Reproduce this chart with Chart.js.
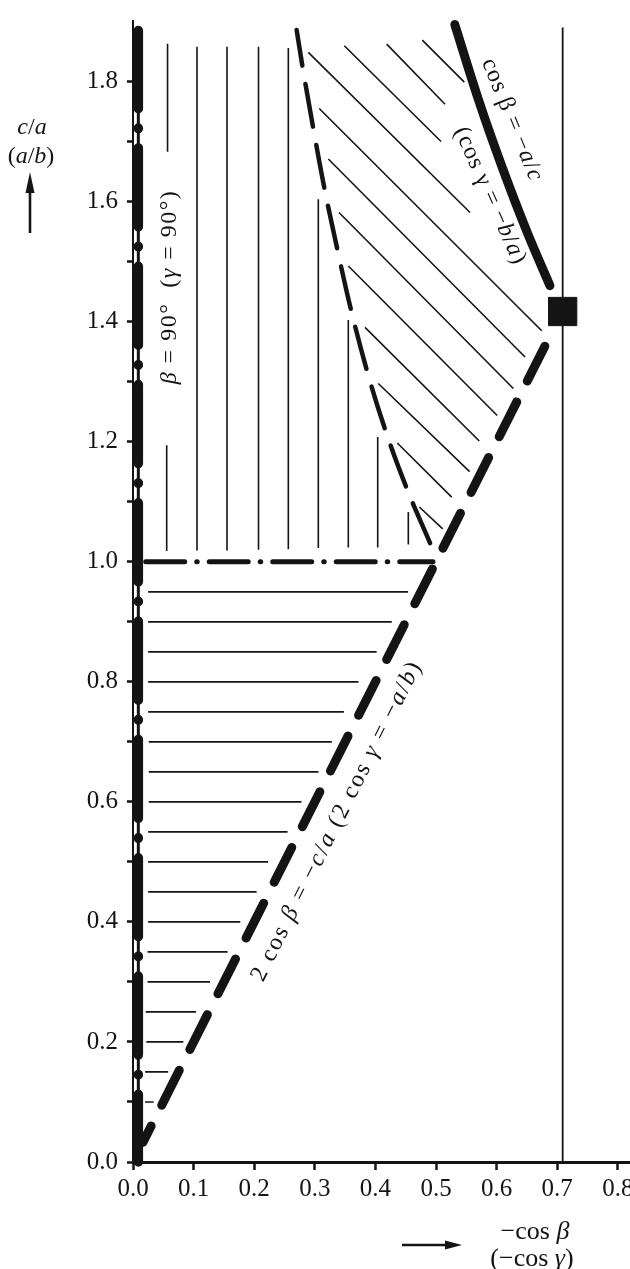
<!DOCTYPE html>
<html><head><meta charset="utf-8">
<script src="https://cdn.jsdelivr.net/npm/chart.js@4/dist/chart.umd.min.js"></script>
<style>
html,body{margin:0;padding:0;overflow:hidden;background:#fff;}
#wrap{position:absolute;left:0;top:0;width:660px;height:1269px;}
canvas{display:block;}
</style></head>
<body><div id="wrap"><canvas id="c" width="660" height="1269"></canvas></div>
<script>
// ---------- tick values ----------
const xTickValues = [0.0,0.1,0.2,0.3,0.4,0.5,0.6,0.7,0.8];
const yTickValues = [0.0,0.1,0.2,0.3,0.4,0.5,0.6,0.7,0.8,0.9,1.0,1.1,1.2,1.3,1.4,1.5,1.6,1.7,1.8];
const yLabelValues = [0.0,0.2,0.4,0.6,0.8,1.0,1.2,1.4,1.6,1.8];

// ---------- boundary lines ----------
const betaRightX = [0.0088, 0.0088];          // beta = 90 deg (heavy dash-dot)
const betaRightY = [0.0, 1.885];
const mirrorX = [0.709, 0.709];               // thin vertical line
const mirrorY = [0.0, 1.89];
const unitX = [0.021, 0.495];                 // c/a = 1 dash-dot
const unitY = [1.0, 1.0];
const doubleCosX = [0.697, 0.0165];           // 2 cos beta = -c/a
const doubleCosY = [1.394, 0.033];
const cosCurveX = [0.531, 0.570, 0.610, 0.650, 0.688];   // cos beta = -a/c
const cosCurveY = [1.895, 1.770, 1.655, 1.550, 1.460];
const innerCurveX = [0.270, 0.280, 0.2975, 0.3157, 0.3388, 0.358, 0.391, 0.424, 0.457, 0.493, 0.4975];
const innerCurveY = [1.886, 1.823, 1.722, 1.623, 1.513, 1.427, 1.301, 1.197, 1.109, 1.024, 1.012];
const cornerX = [0.709];
const cornerY = [1.417];

// ---------- hatching ----------
const hHatchY  = [0.95,0.90,0.85,0.80,0.75,0.70,0.65,0.60,0.55,0.50,0.45,0.40,0.35,0.30,0.25,0.20,0.15,0.10];
const hHatchX0 = [0.025,0.025,0.025,0.025,0.025,0.026,0.026,0.026,0.025,0.025,0.025,0.025,0.024,0.024,0.021,0.022,0.020,0.020];
const hHatchX1 = [0.454,0.427,0.402,0.372,0.348,0.328,0.306,0.278,0.255,0.223,0.204,0.177,0.156,0.127,0.104,0.083,0.058,0.034];

const vHatchX      = [0.057, 0.0556, 0.1056, 0.1551, 0.2071, 0.2563, 0.3058, 0.3553, 0.4038, 0.4543];
const vHatchTop    = [1.863, 1.194, 1.858, 1.858, 1.858, 1.856, 1.604, 1.403, 1.208, 1.083];
const vHatchBottom = [1.683, 1.018, 1.019, 1.019, 1.020, 1.021, 1.023, 1.024, 1.024, 1.029];

const dHatchX0 = [0.4774,0.4186,0.3487,0.2893,0.3074,0.3223,0.3399,0.3553,0.3828,0.4048,0.4361,0.4725];
const dHatchY0 = [1.8692,1.8625,1.8597,1.8487,1.7553,1.6711,1.5820,1.4929,1.3906,1.2970,1.1980,1.0913];
const dHatchX1 = [0.5467,0.5149,0.5083,0.5561,0.6744,0.6469,0.6276,0.6010,0.5714,0.5554,0.5259,0.5111];
const dHatchY1 = [1.7992,1.7624,1.7002,1.5820,1.3850,1.3411,1.2888,1.2437,1.2013,1.1502,1.1078,1.0549];

// ---------- helpers ----------
const INK = '#141414';
function pts(xs, ys){ return xs.map((x,i)=>({x:x, y:ys[i]})); }
function segs(x0,y0,x1,y1){
  const out=[];
  for(let i=0;i<x0.length;i++){ out.push({x:x0[i],y:y0[i]},{x:x1[i],y:y1[i]},{x:x1[i],y:null}); }
  return out;
}
function lineDs(data, extra){
  return Object.assign({data:data, showLine:true, pointRadius:0, borderColor:INK, backgroundColor:INK,
    borderWidth:1.6, tension:0, clip:false, spanGaps:false}, extra||{});
}

const datasets = [
  // corner square
  {data: pts(cornerX, cornerY), showLine:false, pointStyle:'rect', pointRadius:20, pointHoverRadius:20,
   backgroundColor:INK, borderColor:INK, pointBorderWidth:1, clip:false},
  // cos beta = -a/c
  lineDs(pts(cosCurveX, cosCurveY), {borderWidth:9, borderCapStyle:'round', cubicInterpolationMode:'monotone'}),
  // 2 cos beta = -c/a
  lineDs(pts(doubleCosX, doubleCosY), {borderWidth:9, borderCapStyle:'round', borderDash:[39,23.4], borderDashOffset:39}),
  // inner dashed curve
  lineDs(pts(innerCurveX, innerCurveY), {borderWidth:4.5, borderCapStyle:'round', borderDash:[43.5,18.5], borderDashOffset:7.5, cubicInterpolationMode:'monotone'}),
  // c/a = 1 dash-dot
  lineDs(pts(unitX, unitY), {borderWidth:5, borderCapStyle:'round', borderDash:[39,12,0.5,12]}),
  // beta = 90 heavy dash-dot
  lineDs(pts(betaRightX, betaRightY), {borderWidth:9.5, borderCapStyle:'round', borderDash:[79,19.4,0.5,19.4], borderDashOffset:11.35}),
  lineDs(pts(betaRightX, betaRightY), {borderWidth:3}),
  // thin vertical line
  lineDs(pts(mirrorX, mirrorY), {borderWidth:1.8}),
  // hatching
  lineDs(segs(hHatchX0, hHatchY, hHatchX1, hHatchY), {borderWidth:1.7}),
  lineDs(segs(vHatchX, vHatchTop, vHatchX, vHatchBottom), {borderWidth:1.6}),
  lineDs(segs(dHatchX0, dHatchY0, dHatchX1, dHatchY1), {borderWidth:1.6})
];

// ---------- text annotations ----------
function drawRuns(ctx, runs, x, y, angleDeg, size, spacing, align){
  ctx.save();
  ctx.translate(x, y);
  ctx.rotate(angleDeg*Math.PI/180);
  ctx.fillStyle = INK;
  ctx.textBaseline = 'middle';
  ctx.textAlign = 'left';
  try { ctx.letterSpacing = (spacing||0) + 'px'; } catch(e){}
  const fontFor = it => (it ? 'italic ' : '') + size + 'px "Liberation Serif", "Times New Roman", serif';
  let total = 0;
  const widths = runs.map(r => { ctx.font = fontFor(r[1]); const w = ctx.measureText(r[0]).width; total += w; return w; });
  let cx = align === 'left' ? 0 : -total/2;
  runs.forEach((r,i) => { ctx.font = fontFor(r[1]); ctx.fillText(r[0], cx, 0); cx += widths[i]; });
  ctx.restore();
}

const annotations = {
  id: 'annotations',
  afterDraw(chart){
    const ctx = chart.ctx;
    // inside labels
    drawRuns(ctx, [['β',1],[' = 90°  (',0],['γ',1],[' = 90°)',0]], 170, 287, -90, 24, 1.5);
    drawRuns(ctx, [['cos β = −',0],['a',1],['/',0],['c',1]], 512, 120, 68, 24, 1);
    drawRuns(ctx, [['(cos γ = −',0],['b',1],['/',0],['a',1],[')',0]], 490, 196, 66, 24, 1);
    drawRuns(ctx, [['2 cos ',0],['β',1],[' = −',0],['c',1],['/',0],['a',1],[' (2 cos ',0],['γ',1],[' = −',0],['a',1],['/',0],['b',1],[')',0]], 337, 821, -63.4, 24, 2);
    // y title
    drawRuns(ctx, [['c',1],['/',0],['a',1]], 32, 128, 0, 24, 0);
    drawRuns(ctx, [['(',0],['a',1],['/',0],['b',1],[')',0]], 31, 157, 0, 24, 0);
    // x title
    drawRuns(ctx, [['−cos ',0],['β',1]], 535, 1232, 0, 26, 0);
    drawRuns(ctx, [['(−cos ',0],['γ',1],[')',0]], 532, 1259, 0, 26, 0);
    // arrows
    ctx.save();
    ctx.fillStyle = INK; ctx.strokeStyle = INK; ctx.lineWidth = 2.6;
    ctx.beginPath(); ctx.moveTo(30, 233); ctx.lineTo(30, 188); ctx.stroke();
    ctx.beginPath(); ctx.moveTo(30, 172); ctx.lineTo(34.5, 193); ctx.lineTo(25.5, 193); ctx.closePath(); ctx.fill();
    ctx.beginPath(); ctx.moveTo(402, 1245); ctx.lineTo(448, 1245); ctx.stroke();
    ctx.beginPath(); ctx.moveTo(462, 1245); ctx.lineTo(445, 1240.5); ctx.lineTo(445, 1249.5); ctx.closePath(); ctx.fill();
    ctx.restore();
  }
};

const tickFont = {family:'"Liberation Serif", "Times New Roman", serif', size:25};

new Chart(document.getElementById('c'), {
  type: 'scatter',
  data: {datasets: datasets},
  options: {
    responsive:false, animation:false,
    layout:{padding:{top:10, right:24, bottom:0, left:0}},
    plugins:{legend:{display:false}, tooltip:{enabled:false}},
    events:[],
    scales:{
      x:{type:'linear', min:0, max:0.83, position:'bottom',
        afterBuildTicks(s){ s.ticks = xTickValues.map(v=>({value:v})); },
        afterFit(s){ s.height = 107; s.paddingLeft = 0; s.paddingRight = 0; },
        ticks:{font:tickFont, color:INK, padding:4, maxRotation:0, autoSkip:false,
          callback:(v)=>Number(v).toFixed(1)},
        grid:{drawOnChartArea:false, drawTicks:true, tickLength:8, tickWidth:2.5, tickColor:INK},
        border:{display:true, width:3, color:INK}
      },
      y:{type:'linear', min:0, max:1.901, position:'left',
        afterBuildTicks(s){ s.ticks = yTickValues.map(v=>({value:v})); },
        afterFit(s){ s.width = 133; s.paddingTop = 0; s.paddingBottom = 0; },
        ticks:{font:tickFont, color:INK, padding:9, autoSkip:false,
          callback:(v)=>{ const k=Math.round(v*10); return (k%2===0) ? (k/10).toFixed(1) : ''; }},
        grid:{drawOnChartArea:false, drawTicks:true, tickLength:6, tickWidth:2.5, tickColor:INK},
        border:{display:true, width:2, color:INK}
      }
    }
  },
  plugins:[annotations]
});
</script>
</body></html>
